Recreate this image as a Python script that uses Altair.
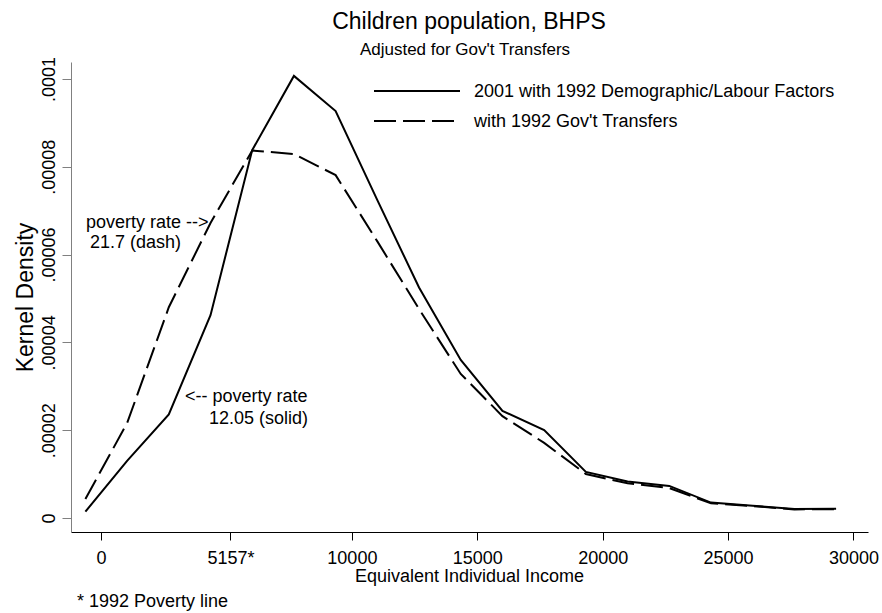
import altair as alt
import pandas as pd

# ---- data ----
income = [-626, 1037, 2700, 4363, 6026, 7689, 9352, 11015, 12678, 14341,
          16004, 17667, 19330, 20993, 22656, 24319, 25982, 27645, 29308]
density_2001 = [0.144e-5, 1.30e-5, 2.36e-5, 4.62e-5, 8.38e-5, 10.07e-5, 9.27e-5,
                7.24e-5, 5.25e-5, 3.60e-5, 2.44e-5, 2.00e-5, 1.05e-5, 0.83e-5,
                0.73e-5, 0.35e-5, 0.28e-5, 0.205e-5, 0.21e-5]
density_1992 = [0.433e-5, 2.16e-5, 4.80e-5, 6.72e-5, 8.37e-5, 8.29e-5, 7.81e-5,
                6.30e-5, 4.76e-5, 3.28e-5, 2.32e-5, 1.71e-5, 1.00e-5, 0.79e-5,
                0.68e-5, 0.335e-5, 0.27e-5, 0.195e-5, 0.20e-5]
series_names = ["2001 with 1992 Demographic/Labour Factors", "with 1992 Gov't Transfers"]

x_ticks = [0, 5157, 10000, 15000, 20000, 25000, 30000]
y_ticks = [0, 0.00002, 0.00004, 0.00006, 0.00008, 0.0001]

FONT = "Liberation Sans"
W, H = 797, 470
DASH = [22, 7]

df = pd.DataFrame({
    "income": income + income,
    "density": density_2001 + density_1992,
    "series": [series_names[0]] * len(income) + [series_names[1]] * len(income),
})

xscale = alt.Scale(domain=[-1200, 30580], nice=False, zero=False)
yscale = alt.Scale(domain=[-3.2e-6, 1.0387e-4], nice=False, zero=False)

xaxis = alt.Axis(
    values=x_ticks,
    labelExpr="datum.value == 5157 ? '5157*' : format(datum.value, 'd')",
    title="Equivalent Individual Income",
    grid=False, domainColor="black", tickColor="black", tickSize=8,
    labelFontSize=18, labelPadding=9, labelFont=FONT, labelColor="black",
    labelFlush=False, labelOverlap=False,
    titleFontSize=18, titleFontWeight="normal", titleFont=FONT, titleColor="black",
    titleX=398, titleY=49, titleBaseline="alphabetic", titleAlign="center",
)
yaxis = alt.Axis(
    values=y_ticks,
    labelExpr="datum.value == 0 ? '0' : replace(format(datum.value, '.5~f'), '0.', '.')",
    title="Kernel Density",
    grid=False, domainColor="#808080", tickColor="#808080", tickSize=9,
    labelFontSize=18, labelPadding=8, labelFont=FONT, labelColor="black",
    labelAngle=270, labelAlign="center", labelBaseline="alphabetic",
    labelFlush=False, labelOverlap=False,
    titleFontSize=23, titleFontWeight="normal", titleFont=FONT, titleColor="black",
    titleAngle=270, titleX=-39, titleY=235, titleBaseline="alphabetic", titleAlign="center",
)

base = alt.Chart(df)
solid = base.transform_filter(alt.datum.series == series_names[0]).mark_line(
    color="black", strokeWidth=2, strokeJoin="miter"
).encode(
    x=alt.X("income:Q", scale=xscale, axis=xaxis),
    y=alt.Y("density:Q", scale=yscale, axis=yaxis),
)
dashed = base.transform_filter(alt.datum.series == series_names[1]).mark_line(
    color="black", strokeWidth=2, strokeDash=DASH
).encode(
    x=alt.X("income:Q", scale=xscale),
    y=alt.Y("density:Q", scale=yscale),
)

one = pd.DataFrame({"k": [0]})

def rule(x1, x2, y, dash=None):
    kw = dict(color="black", strokeWidth=2)
    if dash:
        kw["strokeDash"] = dash
    return alt.Chart(one).mark_rule(**kw).encode(
        x=alt.value(x1), x2=alt.value(x2), y=alt.value(y))

def label(text, x, y, size=18, align="left"):
    return alt.Chart(one).mark_text(
        text=text, font=FONT, fontSize=size, color="black",
        align=align, baseline="alphabetic"
    ).encode(x=alt.value(x), y=alt.value(y))

layers = [
    solid, dashed,
    rule(303, 389, 29), rule(303, 389, 59, DASH),
    label(series_names[0], 403, 35),
    label(series_names[1], 403, 65),
    label("Children population, BHPS", 398, -33, size=23, align="center"),
    label("Adjusted for Gov't Transfers", 394, -7, size=17, align="center"),
    label("poverty rate -->", 15, 166),
    label("21.7 (dash)", 19, 186),
    label("<-- poverty rate", 114, 340),
    label("12.05 (solid)", 138, 362),
    label("* 1992 Poverty line", 6, 545),
]

chart = alt.layer(*layers).properties(
    width=W, height=H,
    autosize=alt.AutoSizeParams(type="none"),
    padding={"left": 71, "top": 62, "right": 14, "bottom": 81},
    background="white",
).configure_view(stroke=None)

chart.save("out.html", embed_options={"renderer": "svg", "actions": False})
